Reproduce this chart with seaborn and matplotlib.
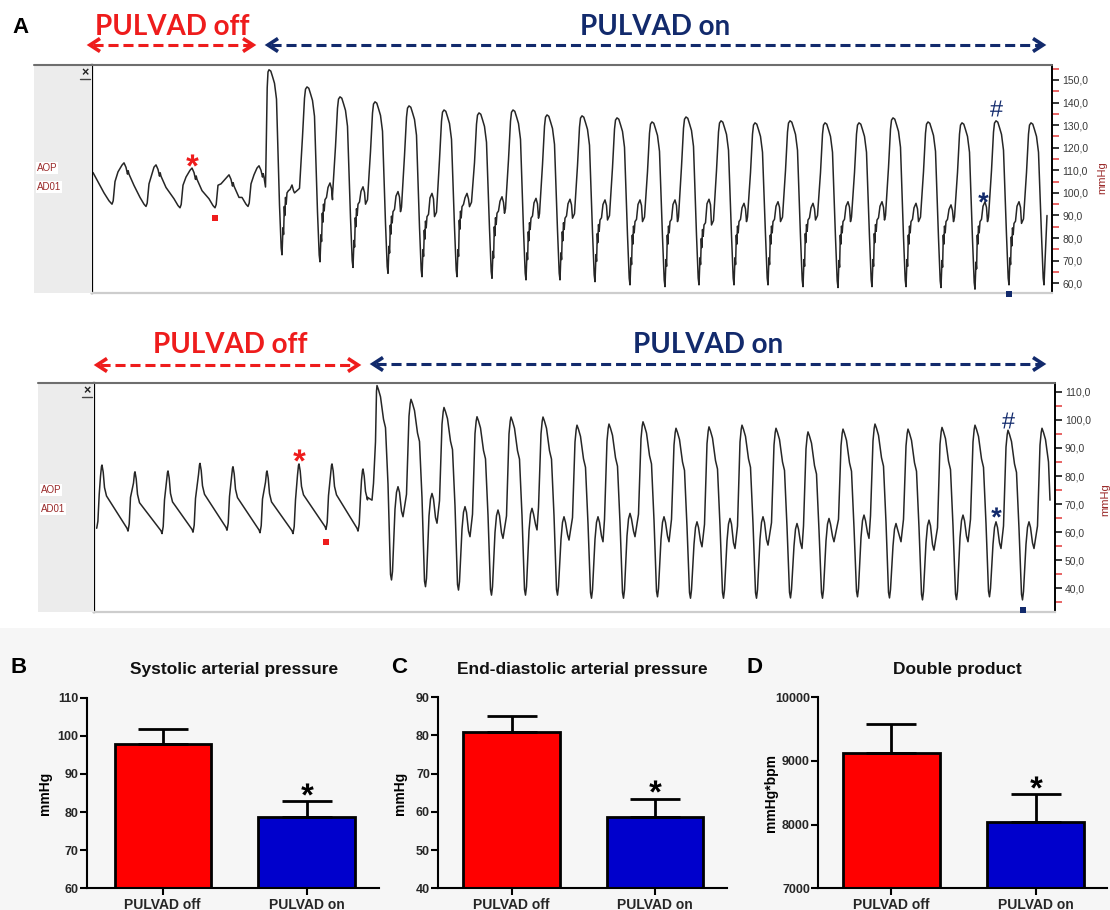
import numpy as np
import pandas as pd
import matplotlib
matplotlib.use("Agg")
import matplotlib.pyplot as plt
import seaborn as sns
from matplotlib.patches import Rectangle
from matplotlib.transforms import offset_copy
from matplotlib.textpath import TextPath
from matplotlib.font_manager import FontProperties
from matplotlib.path import Path
from matplotlib.ticker import FixedLocator, FuncFormatter

sns.set_theme(style="white")
plt.rcParams['font.family'] = ['Liberation Sans', 'DejaVu Sans']

# ------------------------------------------------------------------ data
groups = ["PULVAD off", "PULVAD on"]
sap_mean = [97.9, 78.8]
sap_sem = [3.9, 4.1]
edap_mean = [81.0, 58.6]
edap_sem = [4.1, 4.8]
dp_mean = [9130, 8037]
dp_sem = [446, 444]

# trace 1 (aortic pressure, mmHg; time in samples)
t1_start = (1, 109.0)
t1_off_trough_t = [20, 54, 88, 123, 156]
t1_off_trough = [95.0, 94.0, 93.4, 93.4, 94.0]
t1_off_peak_t = [32, 64, 100, 137, 167]
t1_off_peak = [113.3, 112.4, 111.0, 108.0, 112.0]
t1_switch = (173.5, 102.6)
t1_on_peak_t = [177, 215, 248, 283, 317, 352, 387, 421, 455, 490, 525, 560,
                594, 629, 663, 698, 733, 767, 801, 836, 870, 904, 939]
t1_on_peak = [154.5, 146.9, 142.5, 140.3, 138.5, 136.7, 135.4, 136.7, 134.5,
              134.1, 133.2, 131.4, 133.6, 131.9, 131.0, 131.9, 131.0, 131.0,
              133.2, 131.4, 131.0, 131.9, 131.0]
t1_on_trough = [72.6, 69.5, 67.0, 64.4, 62.9, 62.9, 62.2, 61.5, 61.5, 60.7,
                59.3, 58.5, 59.3, 59.3, 59.3, 58.5, 58.1, 58.5, 58.5, 58.1,
                57.4, 59.3, 59.3]
t1_on_bump = [103.5, 104.4, 102.7, 100.6, 99.8, 99.8, 98.3, 97.6, 97.2, 96.9,
              96.9, 96.9, 97.2, 95.4, 96.1, 95.4, 96.1, 96.1, 95.4, 94.7,
              96.1, 96.1]
t1_on_notch = [100.0, 97.0, 95.0, 91.7, 89.5, 93.9, 91.0, 88.8, 88.8, 88.0,
               87.3, 87.3, 85.8, 87.3, 87.3, 88.0, 87.3, 88.0, 87.3, 87.3,
               87.3, 86.5]
t1_end = (955, 90.0)

# trace 2
t2_start = (2.7, 61.4)
t2_off_peak_t = [8, 41, 74, 106, 139, 173, 205, 238, 269]
t2_off_peak = [83.9, 81.5, 81.8, 84.5, 83.3, 81.8, 84.3, 84.3, 82.5]
t2_off_trough_t = [34, 68, 99, 133, 166, 199, 232, 264]
t2_off_trough = [60.4, 59.5, 60.0, 60.7, 59.8, 59.5, 61.0, 60.4]
t2_switch = (278, 71.4)
t2_on_peak_t = [283, 317, 350, 383, 417, 449, 483, 515, 549, 582, 615, 648,
                682, 714, 749, 781, 814, 848, 881, 914, 948]
t2_on_peak = [112.2, 107.3, 104.4, 101.1, 101.0, 101.0, 98.1, 98.5, 99.3, 97.0,
              97.5, 98.1, 97.0, 95.7, 96.7, 98.5, 96.7, 97.3, 98.1, 96.3, 97.0]
t2_on_trough = [43.0, 40.6, 39.4, 37.6, 37.6, 37.6, 36.5, 36.5, 37.0, 36.5,
                36.5, 36.5, 36.6, 36.5, 37.0, 36.6, 35.9, 36.0, 37.0, 35.9]
t2_on_bump = [76.2, 73.8, 69.1, 67.9, 68.5, 65.5, 65.5, 66.7, 65.5, 63.7,
              64.9, 65.5, 63.1, 64.9, 66.1, 63.1, 64.3, 66.1, 63.7, 63.7]
t2_on_notch = [65.5, 63.2, 58.4, 57.8, 60.8, 57.2, 56.6, 58.4, 56.6, 54.8,
               54.2, 55.4, 54.2, 56.6, 57.8, 56.6, 53.6, 56.6, 54.2, 54.2]
t2_end = (956, 71.4)

top_ticks = [60, 70, 80, 90, 100, 110, 120, 130, 140, 150]
bot_ticks = [40, 50, 60, 70, 80, 90, 100, 110]

# ------------------------------------------------------------------ colours
RED = "#ee1c1c"
NAVY = "#122a6c"
BAR_RED = "#ff0000"
BAR_BLUE = "#0000cc"
TRACE = "#262626"
DARKRED = "#9a2a2a"

W, H = 1110, 910
fig = plt.figure(figsize=(W / 100, H / 100), dpi=100)


def fpos(l, t, r, b):
    return [l / W, 1 - b / H, (r - l) / W, (b - t) / H]


def glyph(ch, weight="bold", family="Liberation Sans"):
    tp = TextPath((0, 0), ch, size=1, prop=FontProperties(family=family, weight=weight))
    v = np.array(tp.vertices, dtype=float)
    codes = np.array(tp.codes)
    real = codes != Path.CLOSEPOLY
    x0, x1 = v[real, 0].min(), v[real, 0].max()
    y0, y1 = v[real, 1].min(), v[real, 1].max()
    v[:, 0] -= (x0 + x1) / 2
    v[:, 1] -= (y0 + y1) / 2
    v[~real] = 0.0
    return Path(v, codes)


STAR = glyph("*")
HASH = glyph("#", weight="normal")


def mark(ax, x, y, marker, size, color, dx=0, dy=0):
    tr = offset_copy(ax.transData, fig=fig, x=dx * 0.72, y=-dy * 0.72, units="points")
    ax.plot([x], [y], marker=marker, ms=size, color=color, mec=color, mew=0,
            ls="none", transform=tr, clip_on=False, zorder=6)


# background of the bar-chart band
fig.patches.append(Rectangle((0, 0), 1, 1 - 628 / H, transform=fig.transFigure,
                             facecolor="#f6f6f6", edgecolor="none", zorder=-1))

# ------------------------------------------------------------------ traces
def build_top():
    pts = [t1_start]
    n_off = len(t1_off_peak_t)
    tt0, tr0 = t1_off_trough_t[0], t1_off_trough[0]
    pts += [(tt0 - 8, tr0 + 5), (tt0 - 3, tr0 + 1.5)]
    for i in range(n_off):
        tt, tr = t1_off_trough_t[i], t1_off_trough[i]
        tp, pk = t1_off_peak_t[i], t1_off_peak[i]
        pts += [(tt, tr), (tt + 1.2, tr + 1.5), (tt + 3, tr + 10), (tt + 6, pk - 4),
                (tp - 2, pk - 1), (tp, pk), (tp + 2, pk - 2), (tp + 3.5, pk - 5),
                (tp + 4.2, pk - 3.5), (tp + 5, pk - 5)]
        if i + 1 < n_off:
            nt, ntr = t1_off_trough_t[i + 1], t1_off_trough[i + 1]
            pts += [(tp + 10, pk - 10), (nt - 6, ntr + 4), (nt - 2, ntr + 1)]
    pts += [t1_switch]
    prev_v = t1_switch[1]
    n_on = len(t1_on_peak_t)
    for k in range(n_on):
        tp, P, Tr = t1_on_peak_t[k], t1_on_peak[k], t1_on_trough[k]
        if k == 0:
            pts += [(tp - 3, prev_v + 12), (tp - 1.8, P - 8), (tp - 1, P - 1)]
        else:
            pts += [(tp - 7.5, prev_v + 2), (tp - 4.5, P - 22), (tp - 2.5, P - 5),
                    (tp - 1.5, P - 1)]
        pts += [(tp, P), (tp + 1.8, P - 0.6), (tp + 3.5, P - 3), (tp + 5.5, P - 6),
                (tp + 7.5, P - 13), (tp + 10.5, Tr + 22), (tp + 12.2, Tr + 3), (tp + 13, Tr)]
        if k < n_on - 1:
            B, N = t1_on_bump[k], t1_on_notch[k]
            pts += [(tp + 14, Tr + 12), (tp + 14.6, Tr + 9), (tp + 15.3, N - 6),
                    (tp + 15.8, N - 10), (tp + 16.5, N - 2), (tp + 17.2, N - 5),
                    (tp + 18, N), (tp + 19.5, N + 1), (tp + 21, B - 2), (tp + 23, B),
                    (tp + 24.5, B - 2.5), (tp + 25.5, N)]
            prev_v = N
        else:
            pts += [t1_end]
    return pd.DataFrame(pts, columns=["t", "p"])


def build_bottom():
    pts = []
    prev_t, prev_v = t2_start
    n_off = len(t2_off_peak_t)
    for i in range(n_off):
        tp, pk = t2_off_peak_t[i], t2_off_peak[i]
        pts += [(prev_t, prev_v), (prev_t + 1.2, prev_v + 2.5), (prev_t + 2.5, prev_v + 12),
                (tp - 1.5, pk - 4), (tp - 0.5, pk - 0.5), (tp, pk), (tp + 1.2, pk - 2.5),
                (tp + 2.5, pk - 8), (tp + 4.5, pk - 11)]
        if i < len(t2_off_trough_t):
            prev_t, prev_v = t2_off_trough_t[i], t2_off_trough[i]
            pts += [(prev_t - 1, prev_v + 1)]
    pts += [(t2_switch[0] - 4.5, t2_switch[1] + 1), t2_switch]
    prev_v = t2_switch[1]
    n_on = len(t2_on_peak_t)
    for k in range(n_on):
        tp, P = t2_on_peak_t[k], t2_on_peak[k]
        if k == 0:
            pts += [(tp - 3.5, prev_v + 6), (tp - 1.5, P - 20), (tp - 0.5, P - 2)]
        else:
            pts += [(tp - 4.5, prev_v + 8), (tp - 2, P - 6), (tp - 0.8, P - 1.5)]
        pts += [(tp, P), (tp + 1.5, P - 1.5), (tp + 3.5, P - 4), (tp + 6.5, P - 12)]
        if k < n_on - 1:
            Tr, B, N = t2_on_trough[k], t2_on_bump[k], t2_on_notch[k]
            pts += [(tp + 8.5, P - 15), (tp + 11, P - 35), (tp + 13.5, Tr + 2), (tp + 14.5, Tr),
                    (tp + 15.5, Tr + 3), (tp + 18, B - 8), (tp + 19.5, B - 2), (tp + 21, B),
                    (tp + 22.5, B - 2), (tp + 24.5, N + 2), (tp + 26, N)]
            prev_v = N
        else:
            pts += [t2_end]
    return pd.DataFrame(pts, columns=["t", "p"])


def trace_axes(box, df, xlim, ylim, majors, minors):
    ax = fig.add_axes(fpos(*box))
    ax.set_facecolor("white")
    sns.lineplot(data=df, x="t", y="p", sort=False, estimator=None, color=TRACE,
                 linewidth=1.1, ax=ax)
    ax.set_xlim(*xlim)
    ax.set_ylim(*ylim)
    ax.set_xlabel("")
    ax.set_ylabel("")
    ax.set_xticks([])
    ax.yaxis.tick_right()
    ax.yaxis.set_major_locator(FixedLocator(majors))
    ax.yaxis.set_minor_locator(FixedLocator(minors))
    ax.yaxis.set_major_formatter(FuncFormatter(lambda v, p: f"{v:.1f}".replace(".", ",")))
    ax.tick_params(axis="y", which="major", right=True, length=5, width=1.1,
                   color="black", labelsize=7.5, labelcolor="#3a3a3a", pad=2)
    ax.tick_params(axis="y", which="minor", right=True, length=5, width=1.1,
                   color="#e23a3a")
    ax.spines["top"].set_visible(False)
    ax.spines["left"].set_color("black")
    ax.spines["left"].set_linewidth(1.6)
    ax.spines["right"].set_color("black")
    ax.spines["right"].set_linewidth(1.4)
    ax.spines["bottom"].set_color("#cdcdcd")
    ax.spines["bottom"].set_linewidth(1.6)
    return ax


top_df = build_top()
bot_df = build_bottom()

ax1 = trace_axes((91.7, 65, 1052.3, 293), top_df, (-0.3, 960.3), (55.7, 156.6),
                 top_ticks, [t + 5 for t in top_ticks])
ax2 = trace_axes((93.7, 383.3, 1055, 611.7), bot_df, (-0.3, 961), (31.7, 113.0),
                 bot_ticks, [t - 5 for t in bot_ticks])

# annotations on the traces, anchored to beats
mark(ax1, t1_off_peak_t[2], t1_off_peak[2], STAR, 9, RED, dy=-8)
mark(ax1, t1_off_trough_t[3], t1_off_trough[3], "s", 5, RED, dy=10)
mark(ax1, t1_on_peak_t[21], t1_on_peak[21], HASH, 11.5, NAVY, dy=-13)
mark(ax1, t1_on_peak_t[20] + 23, t1_on_bump[20], STAR, 7.5, NAVY, dx=-2, dy=-5)
mark(ax1, t1_on_peak_t[21] + 13, t1_on_trough[21], "s", 5, NAVY, dy=9)

mark(ax2, t2_off_peak_t[6], t2_off_peak[6], STAR, 9, RED, dy=-9)
mark(ax2, t2_off_trough_t[6], t2_off_trough[6], "s", 5, RED, dy=13)
mark(ax2, t2_on_peak_t[19], t2_on_peak[19], HASH, 11.5, NAVY, dy=-10)
mark(ax2, t2_on_peak_t[18] + 21, t2_on_bump[18], STAR, 7.5, NAVY, dy=-10)
mark(ax2, t2_on_peak_t[19] + 14.5, t2_on_trough[19], "s", 5, NAVY, dy=10)

# overlay in pixel coordinates for labels, arrows and frames
ov = fig.add_axes([0, 0, 1, 1], zorder=10)
ov.set_xlim(0, W)
ov.set_ylim(H, 0)
ov.axis("off")
ov.patch.set_alpha(0)


# ------------------------------------------------------------------ bar panels
def bar_panel(box, xlim, means, sems, ylim, yticks, title_x, title, letter_x, letter,
              ylabel, ylabel_x):
    ax = fig.add_axes(fpos(*box))
    ax.set_facecolor("none")
    df = pd.DataFrame({"group": groups, "value": means})
    sns.barplot(data=df, x="group", y="value", hue="group",
                palette={groups[0]: BAR_RED, groups[1]: BAR_BLUE}, width=0.67,
                edgecolor="black", linewidth=2.0, errorbar=None, legend=False,
                saturation=1, ax=ax)
    ax.errorbar([0, 1], means, yerr=[[0, 0], sems], fmt="none", ecolor="black",
                elinewidth=2.0, capsize=18, capthick=2.0, zorder=1)
    ax.set_xlim(*xlim)
    ax.set_ylim(*ylim)
    ax.set_yticks(yticks)
    ax.set_xlabel("")
    ax.set_ylabel("")
    for s in ["top", "right"]:
        ax.spines[s].set_visible(False)
    for s in ["left", "bottom"]:
        ax.spines[s].set_color("black")
        ax.spines[s].set_linewidth(1.5)
    ax.tick_params(axis="both", which="major", direction="out", length=5, width=1.5,
                   color="black", left=True, bottom=True)
    ax.tick_params(axis="y", labelsize=9, pad=1)
    ax.tick_params(axis="x", labelsize=10, pad=2)
    for lab in ax.get_yticklabels() + ax.get_xticklabels():
        lab.set_fontweight("bold")
    mark(ax, 1, means[1] + sems[1], STAR, 9, "black", dy=-12.5)
    ov.text(title_x, 674, title, ha="center", va="baseline", fontsize=12.5,
            fontweight="bold", color="#111111")
    ov.text(letter_x, 673, letter, ha="left", va="baseline", fontsize=16,
            fontweight="bold", color="black")
    ov.text(ylabel_x, 793, ylabel, ha="center", va="center", rotation=90,
            fontsize=10, fontweight="bold", color="black")
    return ax


bar_panel((86.5, 697.7, 379, 888.3), (-0.53, 1.504), sap_mean, sap_sem, (60, 110),
          [60, 70, 80, 90, 100, 110], 234, "Systolic arterial pressure", 11, "B",
          "mmHg", 45)
bar_panel((438.3, 697.3, 727, 888.3), (-0.51, 1.501), edap_mean, edap_sem, (40, 90),
          [40, 50, 60, 70, 80, 90], 582, "End-diastolic arterial pressure", 391, "C",
          "mmHg", 400)
bar_panel((818.3, 697.3, 1107, 888.3), (-0.505, 1.493), dp_mean, dp_sem, (7000, 10000),
          [7000, 8000, 9000, 10000], 957, "Double product", 746, "D",
          "mmHg*bpm", 771)

# trace frames: grey label box, top rule, channel names
for (x0, x1, y0, y1, xr, cy) in [(34, 91.7, 65, 293, 1052.3, (168, 187)),
                                 (38, 93.7, 383.3, 611.7, 1055, (490, 509))]:
    ov.add_patch(Rectangle((x0, y0), x1 - x0, y1 - y0, facecolor="#ececec",
                           edgecolor="none", zorder=1))
    ov.plot([x0, xr], [y0, y0], color="#6e6e6e", lw=1.5, zorder=3)
    ov.text(x1 - 7, y0 + 8, "×", ha="center", va="center", fontsize=9,
            fontweight="bold", color="#222222", zorder=4)
    ov.plot([x1 - 12, x1 - 2], [y0 + 14, y0 + 14], color="#444444", lw=1.0, zorder=4)
    ov.text(x0 + 3, cy[0], "AOP", ha="left", va="center", fontsize=7, color=DARKRED,
            zorder=4, bbox=dict(facecolor="white", edgecolor="none", pad=0.6))
    ov.text(x0 + 3, cy[1], "AD01", ha="left", va="center", fontsize=7, color=DARKRED,
            zorder=4, bbox=dict(facecolor="white", edgecolor="none", pad=0.6))

ov.text(1102, 178, "mmHg", rotation=90, ha="center", va="center", fontsize=8,
        color=DARKRED)
ov.text(1105, 500, "mmHg", rotation=90, ha="center", va="center", fontsize=8,
        color=DARKRED)


def dashed_arrow(x1, x2, y, color):
    ov.plot([x1 + 3, x2 - 3], [y, y], color=color, lw=2.2, ls=(0, (3.3, 1.6)),
            solid_capstyle="butt", dash_capstyle="butt")
    for xe, s in [(x1, 1), (x2, -1)]:
        ov.plot([xe + s * 10, xe, xe + s * 10], [y - 6.5, y, y + 6.5], color=color,
                lw=2.6, solid_joinstyle="miter", solid_capstyle="butt")


dashed_arrow(90, 253, 45, RED)
dashed_arrow(268, 1043, 45, NAVY)
dashed_arrow(97, 358, 365, RED)
dashed_arrow(373, 1043, 364, NAVY)

lab_font = dict(family=["Lato", "DejaVu Sans"], fontweight="bold", fontsize=20)
ov.text(172, 35, "PULVAD off", ha="center", va="baseline", color=RED, **lab_font)
ov.text(655, 35, "PULVAD on", ha="center", va="baseline", color=NAVY, **lab_font)
ov.text(230, 353, "PULVAD off", ha="center", va="baseline", color=RED, **lab_font)
ov.text(708, 353, "PULVAD on", ha="center", va="baseline", color=NAVY, **lab_font)

ov.text(12, 33, "A", ha="left", va="baseline", fontsize=16, fontweight="bold",
        color="black")

fig.savefig("out.png", dpi=100, facecolor="white")
